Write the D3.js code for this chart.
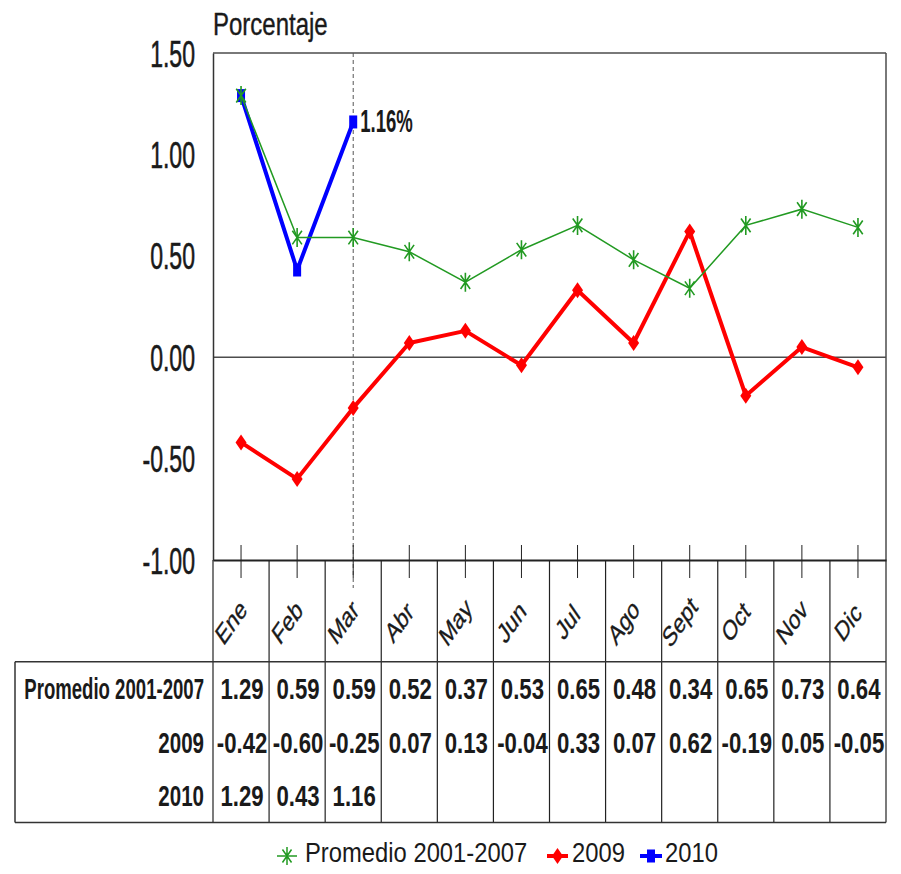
<!DOCTYPE html>
<html>
<head>
<meta charset="utf-8">
<script src="https://cdn.jsdelivr.net/npm/d3@7"></script>
<style>
  body { margin: 0; background: #fff; }
  text { font-family: "Liberation Sans", Arial, sans-serif; fill: #1a1a1a; }
  .heavy { stroke: #1a1a1a; stroke-width: 0.6px; }
</style>
</head>
<body>
<div class="chart"></div>
<script>
// data
var months = ["Ene", "Feb", "Mar", "Abr", "May", "Jun", "Jul", "Ago", "Sept", "Oct", "Nov", "Dic"];
var promedio = [1.29, 0.59, 0.59, 0.52, 0.37, 0.53, 0.65, 0.48, 0.34, 0.65, 0.73, 0.64];
var serie2009 = [-0.42, -0.60, -0.25, 0.07, 0.13, -0.04, 0.33, 0.07, 0.62, -0.19, 0.05, -0.05];
var serie2010 = [1.29, 0.43, 1.16];
var yTicks = [1.5, 1, 0.5, 0, -0.5, -1];
var seriesNames = ["Promedio 2001-2007", "2009", "2010"];
var lastLabel = "1.16%";

var svgWidth = 901;
var svgHeight = 874;

var margin = { top: 53, right: 15, bottom: 314, left: 213 };
var width = svgWidth - margin.left - margin.right;
var height = svgHeight - margin.top - margin.bottom;

var green = "#229a22", red = "#ff0000", blue = "#0000ff", frame = "#4d4d4d";

var svg = d3.select(".chart")
    .append("svg")
    .attr("width", svgWidth)
    .attr("height", svgHeight);

var chartGroup = svg.append("g")
    .attr("transform", `translate(${margin.left}, ${margin.top})`);

var x = d3.scaleBand().domain(months).range([0, width]);
var bw = x.bandwidth();
var cx = function (i) { return x(months[i]) + bw / 2; };
var y = d3.scaleLinear().domain([-1, 1.5]).range([height, 0]);

// squeezed text helper (the original picture is narrow)
function squeeze(sel, px, py, sx) {
    sel.attr("x", 0).attr("y", 0)
        .attr("transform", `translate(${px},${py}) scale(${sx},1)`);
    return sel;
}

// frame top / right
chartGroup.append("line").attr("x1", 0).attr("x2", width).attr("y1", 0).attr("y2", 0)
    .attr("stroke", frame).attr("stroke-width", 1.5);
chartGroup.append("line").attr("x1", width).attr("x2", width).attr("y1", 0).attr("y2", height)
    .attr("stroke", frame).attr("stroke-width", 1.5);

// zero line
chartGroup.append("line").attr("x1", 0).attr("x2", width)
    .attr("y1", y(0)).attr("y2", y(0))
    .attr("stroke", frame).attr("stroke-width", 1.5);

// dashed marker line at the last 2010 month
var lastI = serie2010.length - 1;
chartGroup.append("line")
    .attr("x1", cx(lastI)).attr("x2", cx(lastI))
    .attr("y1", 0).attr("y2", height + 28)
    .attr("stroke", "#555").attr("stroke-width", 1)
    .attr("stroke-dasharray", "4,3");

// y axis
var yAxis = chartGroup.append("g")
    .call(d3.axisLeft(y).tickValues(yTicks).tickSize(0).tickSizeOuter(0)
        .tickFormat(function (d) { return d.toFixed(2); }));
yAxis.select(".domain").attr("stroke", "#333").attr("stroke-width", 1.5);
yAxis.selectAll("text")
    .attr("dy", null)
    .classed("heavy", true)
    .style("font-size", "36px")
    .style("fill", "#1a1a1a")
    .attr("text-anchor", "end")
    .each(function () { squeeze(d3.select(this), -18, 13, 0.64); });

// y title
squeeze(svg.append("text").text("Porcentaje").attr("class", "heavy")
    .style("font-size", "32px").style("stroke-width", "0.4px"), 213, 35, 0.75);

// x axis (category ticks)
var xAxis = chartGroup.append("g")
    .attr("transform", `translate(0, ${height})`)
    .call(d3.axisBottom(x).tickSize(18).tickSizeOuter(0));
xAxis.select(".domain").attr("stroke", "#222").attr("stroke-width", 2);
xAxis.selectAll(".tick line").attr("y1", -15).attr("stroke", "#222");
xAxis.selectAll(".tick text")
    .attr("dy", "0.35em")
    .attr("y", 0)
    .attr("text-anchor", "middle")
    .classed("heavy", true)
    .style("stroke-width", "0.4px")
    .style("font-size", "28px")
    .style("fill", "#1a1a1a")
    .attr("transform", "translate(-10, 62) scale(0.7,1) rotate(-45)");

// data table
var tableTop = 661.7 - margin.top;
var tableBottom = 822.5 - margin.top;
var rowH = (tableBottom - tableTop) / 3;
var table = chartGroup.append("g");
var bounds = months.map(function (m) { return x(m); }).concat([width]);
table.selectAll(".vdiv").data(bounds).enter().append("line")
    .attr("x1", d => d).attr("x2", d => d)
    .attr("y1", height).attr("y2", tableBottom)
    .attr("stroke", "#222").attr("stroke-width", 1.2);
table.append("line").attr("x1", 15 - margin.left).attr("x2", width)
    .attr("y1", tableTop).attr("y2", tableTop).attr("stroke", "#333").attr("stroke-width", 1.5);
table.append("line").attr("x1", 15 - margin.left).attr("x2", width)
    .attr("y1", tableBottom).attr("y2", tableBottom).attr("stroke", "#333").attr("stroke-width", 1.5);
table.append("line").attr("x1", 15 - margin.left).attr("x2", 15 - margin.left)
    .attr("y1", tableTop).attr("y2", tableBottom).attr("stroke", "#333").attr("stroke-width", 1.5);

var rows = [promedio, serie2009, serie2010];
var labelSx = [0.62, 0.685, 0.685];
rows.forEach(function (vals, r) {
    var base = tableTop + rowH * r + rowH / 2 + 10.5;
    squeeze(table.append("text").text(seriesNames[r])
        .attr("text-anchor", "end").style("font-size", "30px").style("font-weight", "bold"),
        -9, base, labelSx[r]);
    vals.forEach(function (v, i) {
        squeeze(table.append("text").text(v.toFixed(2))
            .attr("text-anchor", "middle").style("font-size", "30px").style("font-weight", "bold"),
            cx(i) + 1, base, 0.74);
    });
});

// markers
function starPath(r) {
    var a = r * 0.72, sx = 0.7;
    return `M0,${-r}V${r}M${-a * sx},${-a}L${a * sx},${a}M${-a * sx},${a}L${a * sx},${-a}`;
}
var diamond = "M0,-8L5.5,0L0,8L-5.5,0Z";

var line = d3.line()
    .x(function (d, i) { return cx(i); })
    .y(function (d) { return y(d); });

// 2009
chartGroup.append("path").datum(serie2009).attr("d", line)
    .attr("fill", "none").attr("stroke", red).attr("stroke-width", 4).attr("stroke-linejoin", "round");
chartGroup.selectAll(".m2009").data(serie2009).enter().append("path")
    .attr("d", diamond).attr("fill", red)
    .attr("transform", (d, i) => `translate(${cx(i)},${y(d)})`);

// 2010
chartGroup.append("path").datum(serie2010).attr("d", line)
    .attr("fill", "none").attr("stroke", blue).attr("stroke-width", 4).attr("stroke-linejoin", "round");
chartGroup.selectAll(".m2010").data(serie2010).enter().append("rect")
    .attr("x", (d, i) => cx(i) - 4).attr("y", d => y(d) - 6.5)
    .attr("width", 8).attr("height", 13).attr("fill", blue);

// promedio
chartGroup.append("path").datum(promedio).attr("d", line)
    .attr("fill", "none").attr("stroke", green).attr("stroke-width", 1.5);
chartGroup.selectAll(".mprom").data(promedio).enter().append("path")
    .attr("d", starPath(9.5)).attr("fill", "none").attr("stroke", green).attr("stroke-width", 1.6)
    .attr("transform", (d, i) => `translate(${cx(i)},${y(d)})`);

// label for the latest value
squeeze(chartGroup.append("text").text(lastLabel)
    .style("font-size", "32px").style("font-weight", "bold"),
    cx(lastI) + 7, y(serie2010[lastI]) + 10, 0.58);

// legend
var legend = svg.append("g");
var legendItems = [
    { name: seriesNames[0], x0: 277, x1: 297, text: 305, color: green, mark: "star" },
    { name: seriesNames[1], x0: 547, x1: 568, text: 572, color: red, mark: "diamond" },
    { name: seriesNames[2], x0: 640, x1: 662, text: 665, color: blue, mark: "square" }
];
var ly = 856;
legendItems.forEach(function (it) {
    var mx = (it.x0 + it.x1) / 2;
    legend.append("line").attr("x1", it.x0).attr("x2", it.x1).attr("y1", ly).attr("y2", ly)
        .attr("stroke", it.color).attr("stroke-width", it.mark === "star" ? 1.5 : 4);
    if (it.mark === "star") {
        legend.append("path").attr("d", starPath(9)).attr("fill", "none")
            .attr("stroke", it.color).attr("stroke-width", 1.5)
            .attr("transform", `translate(${mx},${ly})`);
    } else if (it.mark === "diamond") {
        legend.append("path").attr("d", diamond).attr("fill", it.color)
            .attr("transform", `translate(${mx},${ly})`);
    } else {
        legend.append("rect").attr("x", mx - 4).attr("y", ly - 6.5)
            .attr("width", 8).attr("height", 13).attr("fill", it.color);
    }
    squeeze(legend.append("text").text(it.name).style("font-size", "28px"), it.text, 862, 0.85);
});
</script>
</body>
</html>
